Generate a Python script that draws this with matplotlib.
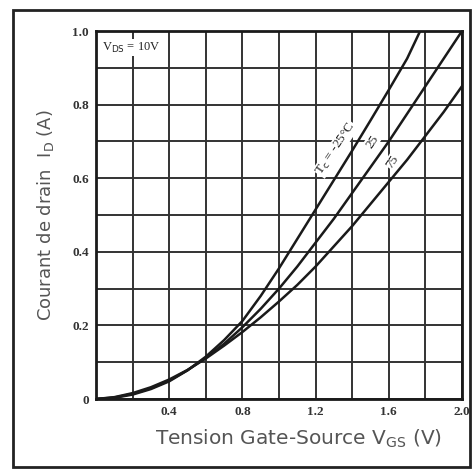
import numpy as np
import matplotlib
matplotlib.use("Agg")
import matplotlib.pyplot as plt
from matplotlib.patches import Rectangle

# Vgs (V) and drain current (A)
vgs = [0.0, 0.1, 0.2, 0.3, 0.4, 0.5, 0.6, 0.7, 0.8, 0.9, 1.0,
       1.1, 1.2, 1.3, 1.4, 1.5, 1.6, 1.7, 1.8, 1.9, 2.0]
id_m25 = [0.0, 0.003, 0.012, 0.027, 0.048, 0.078, 0.115, 0.160, 0.212, 0.280, 0.355,
          0.435, 0.515, 0.595, 0.675, 0.757, 0.840, 0.925, 1.03]
id_25 = [0.0, 0.004, 0.014, 0.029, 0.050, 0.078, 0.112, 0.150, 0.195, 0.245, 0.300,
         0.360, 0.425, 0.490, 0.560, 0.630, 0.700, 0.775, 0.850, 0.925, 1.0]
id_75 = [0.0, 0.005, 0.016, 0.032, 0.053, 0.079, 0.110, 0.145, 0.182, 0.222, 0.265,
         0.310, 0.360, 0.415, 0.470, 0.530, 0.590, 0.650, 0.715, 0.780, 0.850]

xticks = [0.4, 0.8, 1.2, 1.6, 2.0]
xticklabels = ["0.4", "0.8", "1.2", "1.6", "2.0"]
yticks = [0, 0.2, 0.4, 0.6, 0.8, 1.0]
yticklabels = ["0", "0.2", "0.4", "0.6", "0.8", "1.0"]

fig = plt.figure(figsize=(4.73, 4.74), dpi=100)
fig.patch.set_facecolor("white")

# outer frame
fig.patches.append(Rectangle((13/473, 1-467/474), 457/473, 457/474,
                             transform=fig.transFigure, fill=False,
                             edgecolor="#222222", linewidth=2))

ax = fig.add_axes([96/473, 1-399/474, 366/473, 368/474])
ax.set_xlim(0, 2.0)
ax.set_ylim(0, 1.0)

ax.set_xticks(xticks)
ax.set_xticklabels(xticklabels)
ax.set_yticks(yticks)
ax.set_yticklabels(yticklabels)

# grid every 0.2 V / 0.1 A
ax.set_xticks(np.arange(0.2, 2.0, 0.4), minor=True)
ax.set_yticks(np.arange(0.1, 1.0, 0.2), minor=True)
ax.grid(which="both", color="#333333", linewidth=1.4)
ax.set_axisbelow(True)

lw = 1.8
ax.plot(vgs[:len(id_m25)], id_m25, color="#1a1a1a", lw=lw)
ax.plot(vgs, id_25, color="#1a1a1a", lw=lw)
ax.plot(vgs, id_75, color="#1a1a1a", lw=lw)

ax.tick_params(which="both", length=0, pad=5, labelsize=9.5, colors="#333333")
for lab in ax.get_xticklabels() + ax.get_yticklabels():
    lab.set_family("Liberation Serif")
    lab.set_fontweight("bold")

for s in ax.spines.values():
    s.set_linewidth(2)
    s.set_color("#1a1a1a")

ax.set_xlabel(r"Tension Gate-Source V$_{\mathrm{GS}}$ (V)", fontsize=14.5, color="#555555",
              family="DejaVu Sans")
ax.xaxis.set_label_coords(0.552, -0.078)
ax.set_ylabel(r"Courant de drain  I$_{\mathrm{D}}$ (A)", fontsize=13, color="#555555",
              family="DejaVu Sans", labelpad=12)

ax.text(0.19, 0.955, r"V$_{\mathrm{DS}}$ = 10V", ha="center", va="center", fontsize=9,
        family="Liberation Serif", color="#222222",
        bbox=dict(facecolor="white", edgecolor="none", pad=1))

bb = dict(facecolor="white", edgecolor="none", pad=0.5)
ax.text(1.31, 0.68, r"T$_{\mathrm{c}}$ = -25°C", rotation=56, ha="center", va="center",
        fontsize=9.5, family="Liberation Serif", color="#222222", bbox=bb)
ax.text(1.51, 0.70, "25", rotation=56, ha="center", va="center",
        fontsize=9.5, family="Liberation Serif", color="#222222", bbox=bb)
ax.text(1.62, 0.645, "75", rotation=56, ha="center", va="center",
        fontsize=9.5, family="Liberation Serif", color="#222222", bbox=bb)

fig.savefig("out.png", dpi=100)
